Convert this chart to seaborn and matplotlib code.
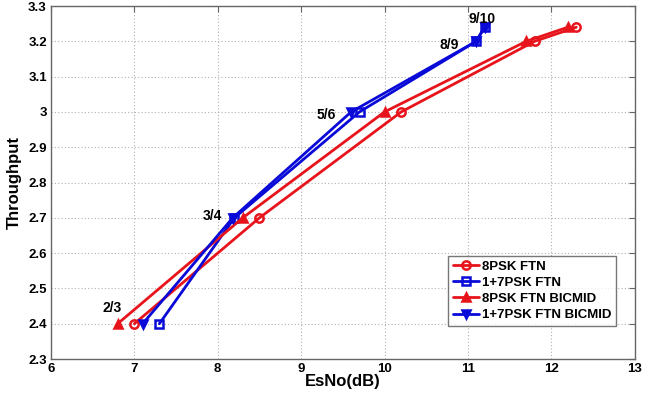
import matplotlib
matplotlib.use("Agg")
import matplotlib.pyplot as plt
import seaborn as sns
import pandas as pd

# data
psk8_ftn_x = [7.0, 8.5, 10.2, 11.8, 12.3]
psk8_ftn_y = [2.4, 2.7, 3.0, 3.2, 3.24]
psk17_ftn_x = [7.3, 8.2, 9.7, 11.1, 11.2]
psk17_ftn_y = [2.4, 2.7, 3.0, 3.2, 3.24]
psk8_bic_x = [6.8, 8.3, 10.0, 11.7, 12.2]
psk8_bic_y = [2.4, 2.7, 3.0, 3.2, 3.24]
psk17_bic_x = [7.1, 8.18, 9.6, 11.1, 11.2]
psk17_bic_y = [2.4, 2.7, 3.0, 3.2, 3.24]
series_names = ["8PSK FTN", "1+7PSK FTN", "8PSK FTN BICMID", "1+7PSK FTN BICMID"]
rate_labels = ["2/3", "3/4", "5/6", "8/9", "9/10"]
rate_label_x = [6.73, 7.94, 9.3, 10.78, 11.17]
rate_label_y = [2.444, 2.705, 2.99, 3.19, 3.262]
xticks = [6, 7, 8, 9, 10, 11, 12, 13]
yticks = [2.3, 2.4, 2.5, 2.6, 2.7, 2.8, 2.9, 3.0, 3.1, 3.2, 3.3]
ytick_labels = ["2.3", "2.4", "2.5", "2.6", "2.7", "2.8", "2.9", "3", "3.1", "3.2", "3.3"]

sns.set_style("white")
plt.rcParams["font.family"] = ["Liberation Sans", "DejaVu Sans"]
plt.rcParams["font.weight"] = "bold"
plt.rcParams["text.color"] = "black"
plt.rcParams["axes.labelcolor"] = "black"
plt.rcParams["xtick.color"] = "black"
plt.rcParams["ytick.color"] = "black"

fig = plt.figure(figsize=(6.56, 3.95), dpi=100)
ax = fig.add_axes([0.0777, 0.0911, 0.8898, 0.8937])

red = "#e8141c"
blue = "#0a0ad8"
styles = [
    (psk8_ftn_x, psk8_ftn_y, red, "o", "none"),
    (psk17_ftn_x, psk17_ftn_y, blue, "s", "none"),
    (psk8_bic_x, psk8_bic_y, red, "^", red),
    (psk17_bic_x, psk17_bic_y, blue, "v", blue),
]
for (xs, ys, c, m, fc), name in zip(styles, series_names):
    df = pd.DataFrame({"x": xs, "y": ys})
    sns.lineplot(data=df, x="x", y="y", ax=ax, color=c, marker=m, markersize=6,
                 markerfacecolor=fc, markeredgecolor=c, markeredgewidth=1.8,
                 linewidth=2.0, sort=False, estimator=None, label=name)

for t, xx, yy in zip(rate_labels, rate_label_x, rate_label_y):
    ax.text(xx, yy, t, ha="center", va="center", fontsize=10, fontweight="bold")

ax.set_xlim(6, 13)
ax.set_ylim(2.3, 3.3)
ax.set_xticks(xticks)
ax.set_yticks(yticks)
ax.set_yticklabels(ytick_labels)
ax.tick_params(axis="both", direction="in", length=4, labelsize=9.5, color="#666666",
               labelcolor="black", top=True, right=True, pad=3)
for lab in ax.get_xticklabels() + ax.get_yticklabels():
    lab.set_fontweight("bold")
ax.grid(True, linestyle=(0, (1, 2)), color="#b0b0b0", linewidth=0.8)
for s in ax.spines.values():
    s.set_color("#666666")
    s.set_linewidth(1.0)
ax.set_xlabel("EsNo(dB)", fontsize=12, fontweight="bold", labelpad=-1)
ax.set_ylabel("Throughput", fontsize=12, fontweight="bold")
ax.yaxis.set_label_coords(-0.05, 0.5)

leg = ax.legend(loc="lower left", bbox_to_anchor=(0.68, 0.094), fontsize=9.5,
                frameon=True, fancybox=False, handlelength=2.0, handletextpad=0.2,
                borderpad=0.35, labelspacing=0.3, borderaxespad=0)
leg.get_frame().set_edgecolor("#555555")
leg.get_frame().set_linewidth(1.0)
for t in leg.get_texts():
    t.set_fontweight("bold")
    t.set_color("black")

fig.savefig("out.png", dpi=100)
